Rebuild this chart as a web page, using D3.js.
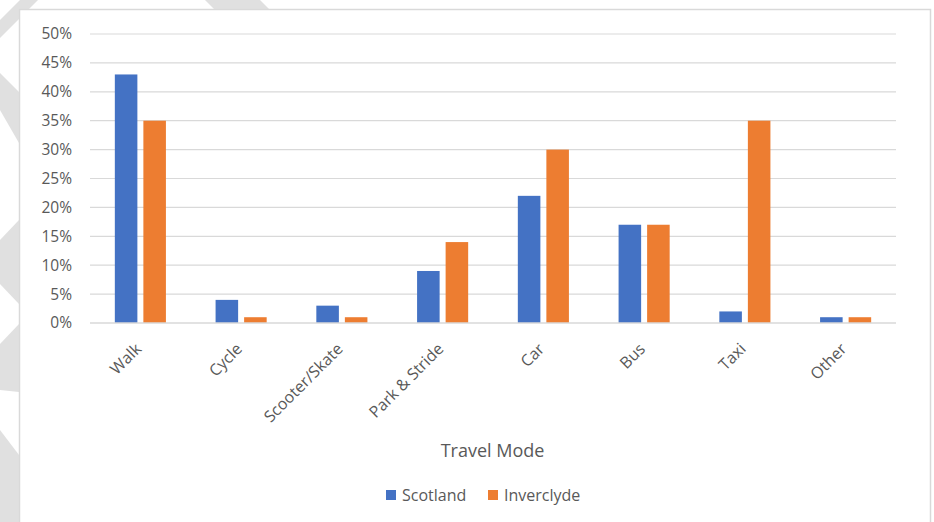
<!DOCTYPE html>
<html>
<head>
<meta charset="utf-8">
<script src="https://cdn.jsdelivr.net/npm/d3@7.9.0/dist/d3.min.js"></script>
<style>
  body { margin: 0; background: #fff; }
  svg { display: block; font-family: "Segoe UI", "Open Sans", sans-serif; }
</style>
</head>
<body>
<svg id="chart" width="934" height="522"></svg>
<script>
const modes = ['Walk', 'Cycle', 'Scooter/Skate', 'Park & Stride', 'Car', 'Bus', 'Taxi', 'Other'];
const seriesNames = ['Scotland', 'Inverclyde'];
const scotland = [0.43, 0.04, 0.03, 0.09, 0.22, 0.17, 0.02, 0.01];
const inverclyde = [0.35, 0.01, 0.01, 0.14, 0.30, 0.17, 0.35, 0.01];
const yTicks = [0, 0.05, 0.10, 0.15, 0.20, 0.25, 0.30, 0.35, 0.40, 0.45, 0.50];
const colors = ['#4472C4', '#ED7D31'];

const svg = d3.select('#chart');

// background stripes outside the chart frame (decoration)
const stripes = [
  [[20, 0], [38, 0], [0, 38], [0, 20]],
  [[0, 73], [19, 92], [19, 143], [0, 110]],
  [[0, 240], [19, 220], [19, 304], [0, 284]],
  [[0, 344], [19, 324], [19, 392], [0, 390]],
  [[0, 430], [19, 455], [19, 522], [0, 522]],
  [[205, 0], [260, 0], [269, 9], [214, 9]]
];
svg.selectAll('polygon.stripe')
  .data(stripes)
  .join('polygon')
  .attr('class', 'stripe')
  .attr('points', d => d.map(p => p.join(',')).join(' '))
  .attr('fill', '#e0e0e0');

// chart frame
svg.append('rect')
  .attr('x', 19.5).attr('y', 9.5)
  .attr('width', 911).attr('height', 530)
  .attr('fill', '#fff')
  .attr('stroke', '#d9d9d9')
  .attr('stroke-width', 1.5);

const x = d3.scaleBand().domain(modes).range([90, 896]);
const xSub = d3.scaleBand().domain(seriesNames).range([0, x.bandwidth()])
  .paddingInner(0.21).paddingOuter(0.87);
const y = d3.scaleLinear().domain([0, 0.5]).range([323, 34]);

// gridlines
svg.append('g')
  .selectAll('line')
  .data(yTicks.slice(1))
  .join('line')
  .attr('x1', 90).attr('x2', 896)
  .attr('y1', d => y(d)).attr('y2', d => y(d))
  .attr('stroke', '#d9d9d9')
  .attr('stroke-width', 1.2);

// y axis labels
const yAxis = d3.axisLeft(y).tickValues(yTicks).tickFormat(d3.format('.0%')).tickSize(0).tickPadding(0);
const yg = svg.append('g').attr('transform', 'translate(72,0)').call(yAxis);
yg.select('.domain').remove();
yg.selectAll('text')
  .attr('fill', '#595959')
  .attr('font-size', 15.5)
  .attr('font-family', '"Segoe UI", "Open Sans", sans-serif');

// bars
const rows = modes.map((m, i) => ({ mode: m, values: [scotland[i], inverclyde[i]] }));
const groups = svg.append('g')
  .selectAll('g')
  .data(rows)
  .join('g')
  .attr('transform', d => `translate(${x(d.mode)},0)`);

groups.selectAll('rect')
  .data(d => d.values.map((v, j) => ({ series: seriesNames[j], value: v, j })))
  .join('rect')
  .attr('x', d => xSub(d.series))
  .attr('width', xSub.bandwidth())
  .attr('y', d => y(d.value))
  .attr('height', d => y(0) - y(d.value))
  .attr('fill', d => colors[d.j]);

// baseline
svg.append('line')
  .attr('x1', 90).attr('x2', 896)
  .attr('y1', y(0)).attr('y2', y(0))
  .attr('stroke', '#d9d9d9')
  .attr('stroke-width', 1.5);

// x labels
svg.append('g')
  .selectAll('text')
  .data(modes)
  .join('text')
  .attr('transform', d => `translate(${x(d) + x.bandwidth() / 2 + 2},350) rotate(-45)`)
  .attr('text-anchor', 'end')
  .attr('fill', '#595959')
  .attr('font-size', 16)
  .text(d => d);

// axis title
svg.append('text')
  .attr('x', 492.5).attr('y', 457)
  .attr('text-anchor', 'middle')
  .attr('fill', '#595959')
  .attr('font-size', 18)
  .text('Travel Mode');

// legend
const legendX = [386, 488];
const legend = svg.append('g')
  .selectAll('g')
  .data(seriesNames)
  .join('g')
  .attr('transform', (d, i) => `translate(${legendX[i]},490)`);
legend.append('rect')
  .attr('width', 10).attr('height', 10)
  .attr('fill', (d, i) => colors[i]);
legend.append('text')
  .attr('x', 16).attr('y', 10.5)
  .attr('fill', '#595959')
  .attr('font-size', 16)
  .text(d => d);
</script>
</body>
</html>
